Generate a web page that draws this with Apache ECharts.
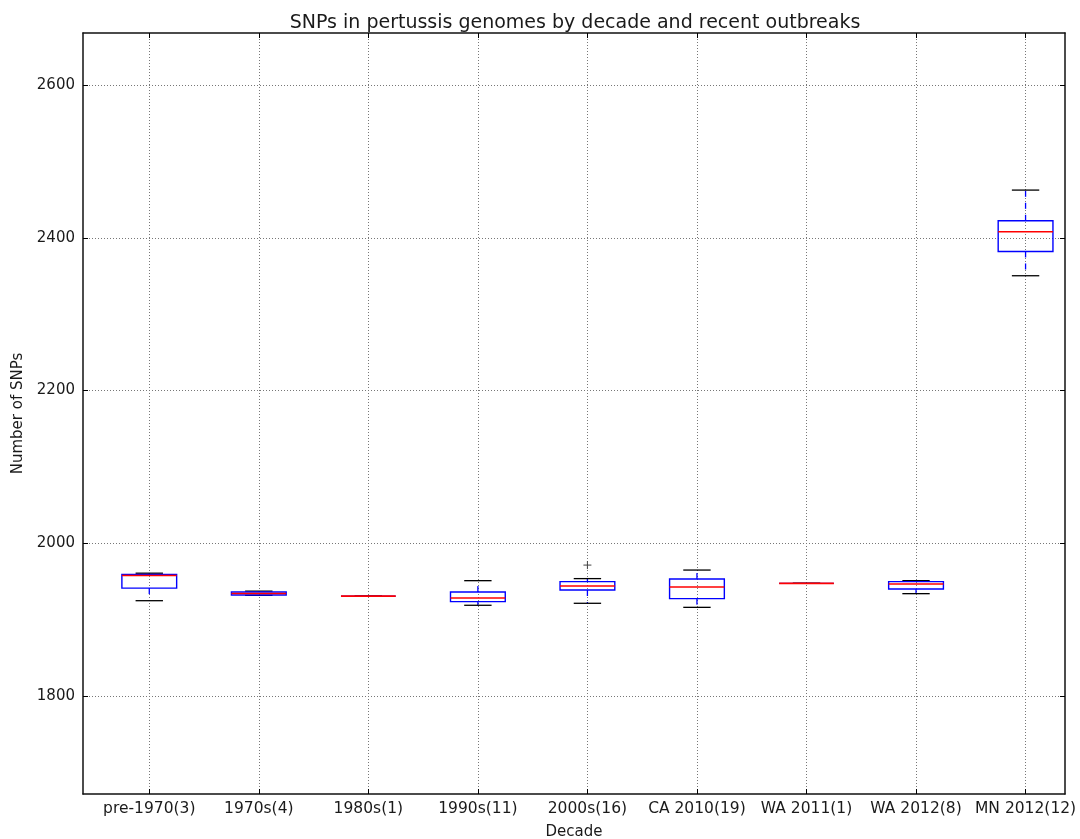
<!DOCTYPE html>
<html>
<head>
<meta charset="utf-8">
<script src="https://cdn.jsdelivr.net/npm/echarts@6/dist/echarts.min.js"></script>
<style>
  html, body { margin: 0; padding: 0; background: #fff; }
  #chart { width: 1080px; height: 839px; }
</style>
</head>
<body>
<div id="chart"></div>
<script>
// box stats
const categories = ['pre-1970(3)', '1970s(4)', '1980s(1)', '1990s(11)', '2000s(16)', 'CA 2010(19)', 'WA 2011(1)', 'WA 2012(8)', 'MN 2012(12)']
const positions = [1, 2, 3, 4, 5, 6, 7, 8, 9]
const mins = [1925, 1932, 1931, 1919, 1921.6, 1916.3, 1947.7, 1934.2, 2350.3]
const q1s = [1941.5, 1932.5, 1931, 1923.8, 1939, 1927.7, 1947.7, 1940.3, 2382.1]
const medians = [1958, 1934.5, 1931, 1928.5, 1944.2, 1942.9, 1947.7, 1946.8, 2407.8]
const q3s = [1959.5, 1936.3, 1931, 1936.3, 1949.9, 1953.3, 1947.7, 1949.9, 2422.2]
const maxs = [1961, 1937.5, 1931, 1951.2, 1953.9, 1965.1, 1947.7, 1951.2, 2462.4]
const outliers = [[5, 1971.6]]
const yTicks = [1800, 2000, 2200, 2400, 2600]

const font = 'DejaVu Sans'
const textColor = '#1a1a1a'

const boxData = positions.map((p, i) => [p, mins[i], q1s[i], medians[i], q3s[i], maxs[i]])

function renderBox(params, api) {
  const pos = api.value(0)
  const xc = api.coord([pos, api.value(3)])[0]
  const hw = api.size([1, 0])[0] * 0.25
  const cw = hw / 2
  const y = (k) => api.coord([pos, api.value(k)])[1]
  const yMin = y(1)
  const yQ1 = y(2)
  const yMed = y(3)
  const yQ3 = y(4)
  const yMax = y(5)
  const whisker = { stroke: '#0000ff', lineWidth: 1.3, lineDash: [6, 6] }
  const cap = { stroke: '#000', lineWidth: 1.3 }
  return {
    type: 'group',
    children: [
      { type: 'line', shape: { x1: xc, y1: yQ3, x2: xc, y2: yMax }, style: whisker },
      { type: 'line', shape: { x1: xc, y1: yQ1, x2: xc, y2: yMin }, style: whisker },
      { type: 'line', shape: { x1: xc - cw, y1: yMax, x2: xc + cw, y2: yMax }, style: cap },
      { type: 'line', shape: { x1: xc - cw, y1: yMin, x2: xc + cw, y2: yMin }, style: cap },
      {
        type: 'rect',
        shape: { x: xc - hw, y: yQ3, width: hw * 2, height: yQ1 - yQ3 },
        style: { fill: 'none', stroke: '#0000ff', lineWidth: 1.4 }
      },
      { type: 'line', shape: { x1: xc - hw, y1: yMed, x2: xc + hw, y2: yMed }, style: { stroke: '#ff0000', lineWidth: 1.6 } }
    ]
  }
}

function renderFlier(params, api) {
  const p = api.coord([api.value(0), api.value(1)])
  const s = 4
  const st = { stroke: '#444', lineWidth: 1 }
  return {
    type: 'group',
    children: [
      { type: 'line', shape: { x1: p[0] - s, y1: p[1], x2: p[0] + s, y2: p[1] }, style: st },
      { type: 'line', shape: { x1: p[0], y1: p[1] - s, x2: p[0], y2: p[1] + s }, style: st }
    ]
  }
}

const chart = echarts.init(document.getElementById('chart'), null, { renderer: 'canvas' })

const dotted = { color: '#777', width: 1, type: [1, 2] }
const axisLine = { show: true, onZero: false, lineStyle: { color: '#111', width: 1.5 } }
const plainNum = (v) => String(v)
const catName = (v) => categories[Math.round(v) - 1] || ''
const xMin = 0.395
const xMax = 9.36

const option = {
  animation: false,
  backgroundColor: '#fff',
  title: {
    text: 'SNPs in pertussis genomes by decade and recent outbreaks',
    left: 570,
    textAlign: 'center',
    top: 9,
    textStyle: { fontFamily: font, fontSize: 19, fontWeight: 'normal', color: textColor }
  },
  grid: { left: 83, right: 15, top: 33, bottom: 45, show: false, containLabel: false, outerBoundsMode: 'none' },
  xAxis: [
    {
      type: 'value',
      min: xMin,
      max: xMax,
      position: 'bottom',
      name: 'Decade',
      nameLocation: 'middle',
      nameGap: 31,
      nameTextStyle: { fontFamily: font, fontSize: 15, color: textColor },
      axisLine: axisLine,
      axisTick: { show: true, inside: true, length: 5, customValues: positions, lineStyle: { color: '#000' } },
      axisLabel: { fontFamily: font, fontSize: 15.5, color: textColor, margin: 7, customValues: positions, formatter: catName },
      splitLine: { show: true, lineStyle: dotted }
    },
    {
      type: 'value',
      min: xMin,
      max: xMax,
      position: 'top',
      axisLine: axisLine,
      axisTick: { show: true, inside: true, length: 5, customValues: positions, lineStyle: { color: '#000' } },
      axisLabel: { show: false, customValues: positions },
      splitLine: { show: false }
    }
  ],
  yAxis: [
    {
      type: 'value',
      min: 1672,
      max: 2668,
      position: 'left',
      name: 'Number of SNPs',
      nameLocation: 'middle',
      nameGap: 53,
      nameTextStyle: { fontFamily: font, fontSize: 15, color: textColor },
      axisLine: axisLine,
      axisTick: { show: true, inside: true, length: 5, customValues: yTicks, lineStyle: { color: '#000' } },
      axisLabel: { fontFamily: font, fontSize: 15, color: textColor, margin: 8, customValues: yTicks, formatter: plainNum },
      splitLine: { show: true, lineStyle: dotted }
    },
    {
      type: 'value',
      min: 1672,
      max: 2668,
      position: 'right',
      axisLine: axisLine,
      axisTick: { show: true, inside: true, length: 5, customValues: yTicks, lineStyle: { color: '#000' } },
      axisLabel: { show: false, customValues: yTicks },
      splitLine: { show: false }
    }
  ],
  series: [
    {
      type: 'custom',
      name: 'boxes',
      xAxisIndex: 0,
      yAxisIndex: 0,
      renderItem: renderBox,
      data: boxData,
      encode: { x: 0, y: [1, 2, 3, 4, 5] },
      clip: true,
      z: 3
    },
    {
      type: 'custom',
      name: 'fliers',
      xAxisIndex: 0,
      yAxisIndex: 0,
      renderItem: renderFlier,
      data: outliers,
      encode: { x: 0, y: 1 },
      z: 3
    }
  ]
}

chart.setOption(option)
</script>
</body>
</html>
